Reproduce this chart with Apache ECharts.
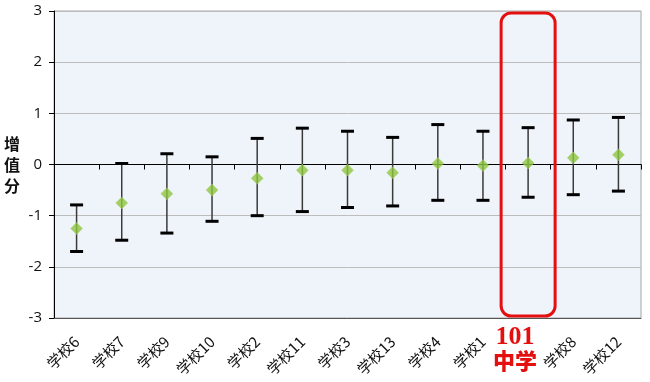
<!DOCTYPE html>
<html><head><meta charset="utf-8">
<script src="https://cdn.jsdelivr.net/npm/echarts@6/dist/echarts.min.js"></script>
<style>html,body{margin:0;padding:0;background:#fff}#c{width:650px;height:382px}</style>
</head><body><div id="c"></div>
<script>
const categories = ['学校6','学校7','学校9','学校10','学校2','学校11','学校3','学校13','学校4','学校1','101中学','学校8','学校12'];
const meanValues = [-1.25,-0.75,-0.57,-0.50,-0.27,-0.11,-0.11,-0.16,0.02,-0.02,0.03,0.13,0.19];
const upperValues = [-0.79,0.02,0.21,0.15,0.51,0.71,0.65,0.53,0.78,0.65,0.72,0.87,0.92];
const lowerValues = [-1.70,-1.48,-1.34,-1.11,-1.00,-0.92,-0.84,-0.81,-0.70,-0.70,-0.64,-0.59,-0.52];
const yTicks = {min:-3, max:3, interval:1};
const highlight = '101中学';

const chart = echarts.init(document.getElementById('c'), null, {renderer:'canvas'});
const errData = categories.map((c,i)=>[i, lowerValues[i], upperValues[i]]);

chart.setOption({
  animation:false,
  grid:{left:54, right:9, top:11, bottom:64, show:true, backgroundColor:'#EFF3FA', borderColor:'#A6A6A6', borderWidth:1},
  xAxis:[
    {type:'category', data:categories, position:'bottom',
     axisLine:{onZero:true, lineStyle:{color:'#000', width:1}},
     axisTick:{show:true, length:5, interval:0, lineStyle:{color:'#000'}},
     axisLabel:{show:false}, splitLine:{show:false}},
    {type:'category', data:categories, position:'bottom',
     axisLine:{onZero:false, lineStyle:{color:'#555', width:1}},
     axisTick:{show:false},
     axisLabel:{interval:0, rotate:45, margin:21, fontSize:15, color:'#111', fontFamily:'Noto Sans CJK SC',
       formatter:v=> v===highlight ? '' : v}},
    {type:'category', data:categories, position:'bottom',
     axisLine:{show:false, onZero:false}, axisTick:{show:false},
     axisLabel:{interval:0, rotate:0, margin:7, color:'#E41010',
       formatter:v=> v===highlight ? '{a|101}\n{b|中学}' : '',
       rich:{a:{fontFamily:'Liberation Serif', fontWeight:'bold', fontSize:26, color:'#E41010', lineHeight:24, padding:[0,26,0,0]},
             b:{fontFamily:'Noto Sans CJK SC', fontWeight:900, fontSize:22, color:'#E41010', lineHeight:24, padding:[0,26,0,0]}}}}
  ],
  yAxis:{type:'value', min:yTicks.min, max:yTicks.max, interval:yTicks.interval,
    name:'增\n值\n分', nameLocation:'middle', nameRotate:0, nameGap:34,
    nameTextStyle:{fontFamily:'Noto Sans CJK SC', fontSize:16, fontWeight:'bold', color:'#111', lineHeight:21},
    axisLine:{show:true, lineStyle:{color:'#000'}},
    axisTick:{show:true, length:5, lineStyle:{color:'#000'}},
    axisLabel:{margin:12, fontSize:15, color:'#111', fontFamily:'Open Sans'},
    splitLine:{lineStyle:{color:'#BDBDBD', width:1}}},
  series:[
    {type:'custom', xAxisIndex:0, data:errData, z:3,
     renderItem:(params, api)=>{
       const x = api.value(0);
       const lo = api.coord([x, api.value(1)]);
       const hi = api.coord([x, api.value(2)]);
       const hw = 6.5;
       return {type:'group', children:[
         {type:'line', shape:{x1:lo[0], y1:lo[1], x2:hi[0], y2:hi[1]}, style:{stroke:'#3A3A3A', lineWidth:1.5}},
         {type:'line', shape:{x1:hi[0]-hw, y1:hi[1], x2:hi[0]+hw, y2:hi[1]}, style:{stroke:'#000', lineWidth:3}},
         {type:'line', shape:{x1:lo[0]-hw, y1:lo[1], x2:lo[0]+hw, y2:lo[1]}, style:{stroke:'#000', lineWidth:3}}
       ]};
     }},
    {type:'scatter', xAxisIndex:0, data:meanValues, symbol:'diamond', symbolSize:[12,12], z:4,
     itemStyle:{color:'#8DC63F', borderColor:'#A9D46A', borderWidth:0.5}}
  ]
});

function drawHighlight(){
  const idx = categories.indexOf(highlight);
  const top = chart.convertToPixel({xAxisIndex:0, yAxisIndex:0}, [idx, yTicks.max]);
  const bot = chart.convertToPixel({xAxisIndex:0, yAxisIndex:0}, [idx, yTicks.min]);
  const w = 54;
  chart.setOption({graphic:[{type:'rect', z:10,
    shape:{x:top[0]-w/2, y:top[1]+2, width:w, height:bot[1]-top[1]-4, r:10},
    style:{fill:'none', stroke:'#E41010', lineWidth:3}}]});
}
drawHighlight();
</script></body></html>
